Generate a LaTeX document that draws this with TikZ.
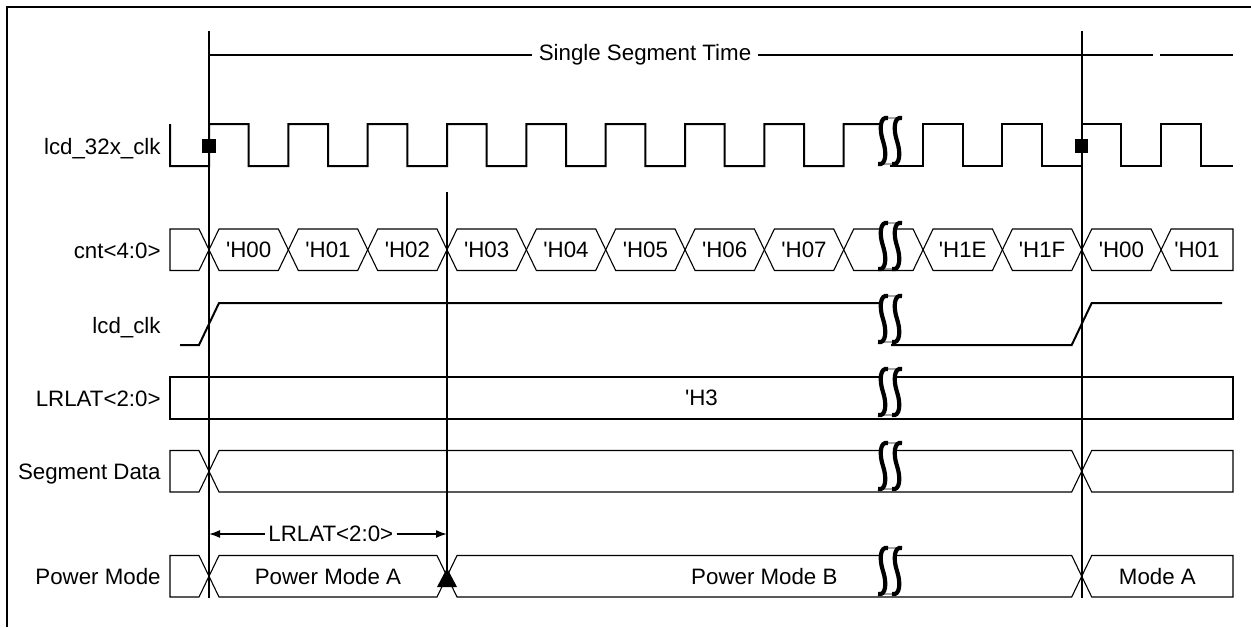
\documentclass[tikz,border=0pt]{standalone}
\usepackage{fontspec}
\setmainfont{Liberation Sans}
\usetikzlibrary{arrows.meta}

\newcommand{\hexv}[1]{\textquotesingle H#1}
\newcommand{\bh}{41.5}
\newcommand{\per}{79.34}
\newcommand{\hp}{39.67}
% bus pieces: top y, crossing x ...
\newcommand{\busfirst}[2]{\draw[bus] (170,#1) -- ({#2-10},#1) -- ({#2},{#1+\bh/2}) -- ({#2-10},{#1+\bh}) -- (170,{#1+\bh}) -- cycle;}
\newcommand{\busseg}[5]{\draw[bus] ({#2},{#1+\bh/2}) -- ({#2+10},#1) -- ({#3-10},#1) -- ({#3},{#1+\bh/2}) -- ({#3-10},{#1+\bh}) -- ({#2+10},{#1+\bh}) -- cycle;
  \node[val] (#4) at ({(#2+#3)/2},{#1+\bh/2}) {#5};}
\newcommand{\buslast}[4]{\draw[bus] ({#2},{#1+\bh/2}) -- ({#2+10},#1) -- (1233,#1) -- (1233,{#1+\bh}) -- ({#2+10},{#1+\bh}) -- cycle;
  \node[val] (#3) at ({(#2+1233)/2},{#1+\bh/2}) {#4};}
% break mark, top y
\newcommand{\brk}[1]{\begin{scope}[shift={(877,#1)}]
  \filldraw[fill=white, line width=0.4pt] (11,1) .. controls (3,-1) and (2,12) .. (6,24) .. controls (10,36) and (9,49) .. (1,47) -- (15,47) .. controls (23,49) and (24,36) .. (20,24) .. controls (16,12) and (17,-1) .. (25,1) -- cycle;
  \draw[line width=2.1pt] (11,1) .. controls (3,-1) and (2,12) .. (6,24) .. controls (10,36) and (9,49) .. (1,47);
  \draw[line width=2.1pt] (25,1) .. controls (17,-1) and (16,12) .. (20,24) .. controls (24,36) and (23,49) .. (15,47);
  \end{scope}}

\begin{document}
\begin{tikzpicture}[x=0.5pt, y=-0.5pt,
    font=\fontsize{11.15}{13}\selectfont,
    sig/.style={line width=1pt},
    bus/.style={line width=0.55pt},
    siglabel/.style={anchor=base east, inner sep=0pt},
    val/.style={inner sep=0pt},
    sqmark/.style={fill=black, inner sep=0pt, minimum size=6.7pt}]
  \useasboundingbox (0,0) rectangle (1251,627);
  \draw[line width=1pt] (7,627) -- (7,7) -- (1251,7);

  % labels
  \node[siglabel] (l32) at (161,154) {lcd\_32x\_clk};
  \node[siglabel] (lcnt) at (161,258.5) {cnt<4:0>};
  \node[siglabel] (lclk) at (161,333) {lcd\_clk};
  \node[siglabel] (llrlat) at (161,406.5) {LRLAT<2:0>};
  \node[siglabel] (lseg) at (161,479.5) {Segment Data};
  \node[siglabel] (lpm) at (161,584) {Power Mode};

  % segment time
  \node (sst) at (645,55) {Single Segment Time};
  \draw[sig] (209,55) -- (sst.west);
  \draw[sig] (sst.east) -- (1153,55);
  \draw[sig] (1160,55) -- (1233,55);

  % lcd_32x_clk
  \draw[sig] (170,124) -- (170,166) -- (209,166)
    \foreach \k in {0,...,7} { -- ({209+\k*\per},124) -- ++(\hp,0) -- ++(0,42) -- ++(\hp,0) }
    -- (843.7,124) -- (890,124);
  \draw[sig] (890,166)
    \foreach \k in {9,...,12} { -- ({209+\k*\per},166) -- ++(0,-42) -- ++(\hp,0) -- ++(0,42) }
    -- (1233,166);

  % cnt<4:0>
  \busfirst{229}{209}
  \foreach[evaluate=\k as \a using 209+\k*\per, evaluate=\k as \b using 209+(\k+1)*\per]
    \k/\v in {0/\hexv{00},1/\hexv{01},2/\hexv{02},3/\hexv{03},4/\hexv{04},5/\hexv{05},
              6/\hexv{06},7/\hexv{07},8/{},9/\hexv{1E},10/\hexv{1F},11/\hexv{00}}
    { \busseg{229}{\a}{\b}{cnt\k}{\v} }
  \buslast{229}{1161.08}{cnt12}{\hexv{01}}

  % lcd_clk
  \draw[sig] (180,345) -- (199,345) -- (219,303) -- (891,303);
  \draw[sig] (891,345) -- (1071.7,345) -- (1091.7,303) -- (1222,303);

  % LRLAT<2:0>
  \draw[sig] (170,377) rectangle (1233,418.5);
  \node (h3) at (701.5,397.7) {\hexv{3}};

  % Segment Data
  \busfirst{450.5}{209}
  \busseg{450.5}{209}{1081.7}{seg1}{}
  \buslast{450.5}{1081.7}{seg2}{}

  % Power Mode
  \busfirst{555.5}{209}
  \busseg{555.5}{209}{447}{pm1}{Power Mode A}
  \busseg{555.5}{447}{1081.7}{pm2}{Power Mode B}
  \buslast{555.5}{1081.7}{pm3}{Mode A}

  % markers
  \coordinate (m1t) at (209,31);  \coordinate (m1b) at (209,598);
  \coordinate (m2t) at (447,192); \coordinate (m2b) at (447,570);
  \coordinate (m3t) at (1081.7,31); \coordinate (m3b) at (1081.7,598);
  \draw[sig] (m1t) -- (m1b);
  \draw[sig] (m2t) -- (m2b);
  \draw[sig] (m3t) -- (m3b);
  \node[sqmark] (sq1) at (209,146) {};
  \node[sqmark] (sq2) at (1081.7,146) {};
  \fill (447,568) -- (437,587) -- (457,587) -- cycle;

  % LRLAT width
  \node[inner sep=1.5pt] (lrl) at (330.8,534) {LRLAT<2:0>};
  \draw[line width=0.8pt, -{Latex[length=5.5pt,width=4pt]}] (lrl.west) -- (m1b |- lrl);
  \draw[line width=0.8pt, -{Latex[length=5.5pt,width=4pt]}] (lrl.east) -- (m2b |- lrl);

  % breaks
  \foreach \t in {117,222,295,368,442,547} { \brk{\t} }
\end{tikzpicture}
\end{document}
